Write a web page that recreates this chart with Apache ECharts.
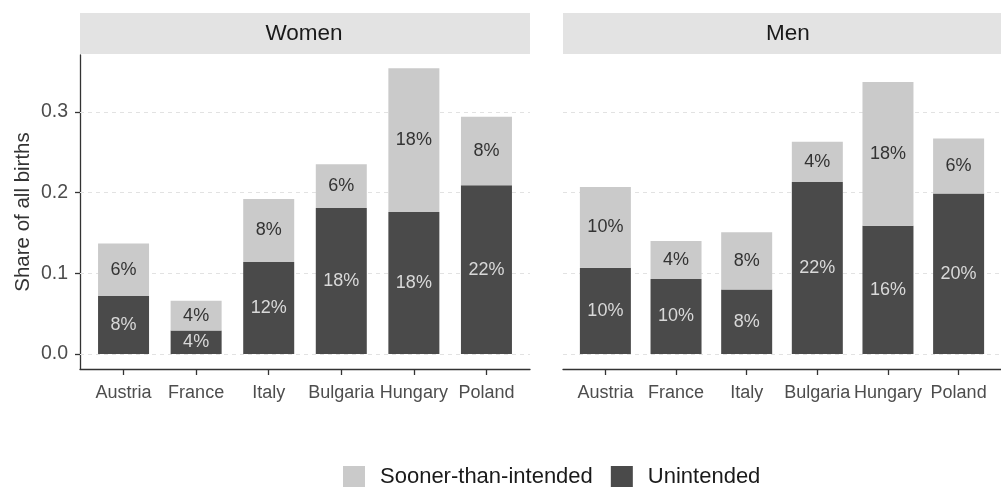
<!DOCTYPE html>
<html>
<head>
<meta charset="utf-8">
<script src="https://cdn.jsdelivr.net/npm/echarts@6/dist/echarts.min.js"></script>
<style>
  html, body { margin: 0; padding: 0; background: #fff; }
  #chart { width: 1001px; height: 487px; }
</style>
</head>
<body>
<div id="chart"></div>
<script>
// data
const countries = ['Austria', 'France', 'Italy', 'Bulgaria', 'Hungary', 'Poland'];
const womenUnintended = [0.072, 0.029, 0.114, 0.181, 0.176, 0.209];
const womenSooner     = [0.065, 0.037, 0.078, 0.054, 0.178, 0.085];
const menUnintended   = [0.107, 0.093, 0.080, 0.213, 0.159, 0.199];
const menSooner       = [0.100, 0.047, 0.071, 0.050, 0.178, 0.068];
const womenUnintendedLbl = ['8%', '4%', '12%', '18%', '18%', '22%'];
const womenSoonerLbl     = ['6%', '4%', '8%', '6%', '18%', '8%'];
const menUnintendedLbl   = ['10%', '10%', '8%', '22%', '16%', '20%'];
const menSoonerLbl       = ['10%', '4%', '8%', '4%', '18%', '6%'];
const yTicks = [0, 0.1, 0.2, 0.3];
const xPos = countries.map((c, i) => i + 1);

const FONT = "'Liberation Sans', Arial, sans-serif";
const DARK = '#4a4a4a';
const LIGHT = '#cacaca';

let chart = echarts.init(document.getElementById('chart'));

function xAxisFor(gridIndex) {
  return {
    type: 'value', gridIndex: gridIndex, min: 0.4, max: 6.6,
    axisLine: { show: true, onZero: false, lineStyle: { color: '#333', width: 1.3 } },
    axisTick: { show: true, customValues: xPos, length: 6, lineStyle: { color: '#333', width: 1.3 } },
    axisLabel: {
      customValues: xPos, margin: 15, color: '#4d4d4d', fontSize: 18, fontFamily: FONT,
      formatter: v => countries[Math.round(v) - 1]
    },
    splitLine: { show: false }
  };
}

function yAxisFor(gridIndex, showIt) {
  return {
    type: 'value', gridIndex: gridIndex, min: -0.0186, max: 0.3705,
    name: showIt ? 'Share of all births' : '',
    nameLocation: 'middle', nameGap: 46,
    nameTextStyle: { fontSize: 20.5, color: '#333', fontFamily: FONT },
    axisLine: { show: showIt, onZero: false, lineStyle: { color: '#333', width: 1.3 } },
    axisTick: { show: showIt, customValues: yTicks, length: 5, lineStyle: { color: '#333', width: 1.3 } },
    axisLabel: {
      show: showIt, customValues: yTicks, margin: 12, color: '#4d4d4d', fontSize: 19.5, fontFamily: FONT,
      formatter: v => v.toFixed(1)
    },
    splitLine: { show: false }
  };
}

function gridLines() {
  return {
    z: 1, silent: true, symbol: 'none', animation: false,
    label: { show: false },
    lineStyle: { type: [4, 4], color: '#e2e2e2', width: 1 },
    emphasis: { disabled: true },
    data: yTicks.map(v => ({ yAxis: v }))
  };
}

function barSeries(name, idx, values, labels, color, labelColor, withLines) {
  let s = {
    name: name, type: 'bar', stack: 'g' + idx,
    xAxisIndex: idx, yAxisIndex: idx,
    barWidth: 51,
    // value first so the stack sums along y
    data: values.map((v, i) => [v, xPos[i]]),
    encode: { x: 1, y: 0 },
    itemStyle: { color: color },
    label: {
      show: true, position: 'inside', color: labelColor, fontSize: 18, fontFamily: FONT,
      formatter: p => labels[p.dataIndex]
    },
    emphasis: { disabled: true },
    animation: false
  };
  if (withLines) s.markLine = gridLines();
  return s;
}

let option = {
  backgroundColor: '#fff',
  grid: [
    { left: 80, top: 55, width: 450, height: 314 },
    { left: 563, top: 55, width: 450, height: 314 }
  ],
  xAxis: [xAxisFor(0), xAxisFor(1)],
  yAxis: [yAxisFor(0, true), yAxisFor(1, false)],
  legend: {
    left: 338, top: 461, itemWidth: 22, itemHeight: 22, itemGap: 18,
    icon: 'rect',
    data: ['Sooner-than-intended', 'Unintended'],
    textStyle: { fontSize: 22, color: '#1a1a1a', fontFamily: FONT, padding: [0, 0, 0, 10] }
  },
  graphic: [
    { type: 'rect', shape: { x: 80, y: 13, width: 450, height: 41 }, style: { fill: '#e3e3e3' }, silent: true },
    { type: 'rect', shape: { x: 563, y: 13, width: 450, height: 41 }, style: { fill: '#e3e3e3' }, silent: true },
    { type: 'text', x: 304, y: 34, style: { text: 'Women', fontSize: 22.5, fontFamily: FONT, fill: '#1a1a1a', align: 'center', verticalAlign: 'middle' } },
    { type: 'text', x: 788, y: 34, style: { text: 'Men', fontSize: 22.5, fontFamily: FONT, fill: '#1a1a1a', align: 'center', verticalAlign: 'middle' } }
  ],
  series: [
    barSeries('Unintended', 0, womenUnintended, womenUnintendedLbl, DARK, '#d9d9d9', true),
    barSeries('Sooner-than-intended', 0, womenSooner, womenSoonerLbl, LIGHT, '#333', false),
    barSeries('Unintended', 1, menUnintended, menUnintendedLbl, DARK, '#d9d9d9', true),
    barSeries('Sooner-than-intended', 1, menSooner, menSoonerLbl, LIGHT, '#333', false)
  ]
};

chart.setOption(option);
</script>
</body>
</html>
